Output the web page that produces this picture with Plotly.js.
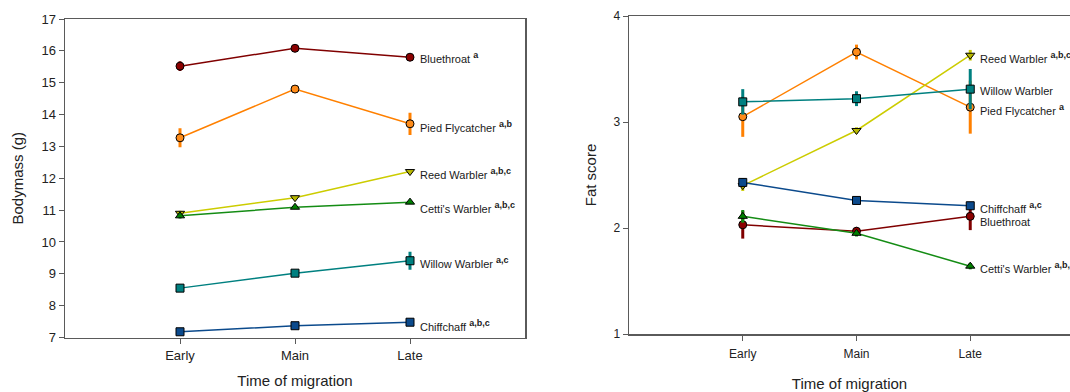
<!DOCTYPE html>
<html>
<head>
<meta charset="utf-8">
<script src="https://cdn.plot.ly/plotly-3.0.1.min.js"></script>
<style>html,body{margin:0;padding:0;background:#fff;}#chart{width:1070px;height:392px;}</style>
</head>
<body>
<div id="chart"></div>
<script>
// ---- Data ----
const periods = ["Early", "Main", "Late"];
const species = ["Bluethroat", "Pied Flycatcher", "Reed Warbler", "Cetti's Warbler", "Willow Warbler", "Chiffchaff"];

// Bodymass (g), left panel
const massBluethroat = [15.52, 16.08, 15.80];
const massPiedFlycatcher = [13.27, 14.80, 13.71];
const massReedWarbler = [10.90, 11.39, 12.21];
const massCettisWarbler = [10.82, 11.09, 11.25];
const massWillowWarbler = [8.55, 9.02, 9.41];
const massChiffchaff = [7.18, 7.37, 7.48];

const massErrBluethroat = [0.15, 0.05, 0.10];
const massErrPiedFlycatcher = [0.30, 0.08, 0.35];
const massErrReedWarbler = [0.08, 0.05, 0.05];
const massErrCettisWarbler = [0.08, 0.05, 0.05];
const massErrWillowWarbler = [0.10, 0.06, 0.28];
const massErrChiffchaff = [0.05, 0.04, 0.04];

const massSig = ["a", "a,b", "a,b,c", "a,b,c", "a,c", "a,b,c"];

// Fat score, right panel
const fatBluethroat = [2.03, 1.97, 2.11];
const fatPiedFlycatcher = [3.05, 3.66, 3.14];
const fatReedWarbler = [2.40, 2.92, 3.63];
const fatCettisWarbler = [2.11, 1.95, 1.64];
const fatWillowWarbler = [3.19, 3.22, 3.31];
const fatChiffchaff = [2.43, 2.26, 2.21];

const fatErrBluethroat = [0.13, 0.04, 0.13];
const fatErrPiedFlycatcher = [0.19, 0.07, 0.25];
const fatErrReedWarbler = [0.05, 0.03, 0.05];
const fatErrCettisWarbler = [0.06, 0.03, 0.03];
const fatErrWillowWarbler = [0.12, 0.07, 0.19];
const fatErrChiffchaff = [0.04, 0.03, 0.03];

const fatSig = ["", "a", "a,b,c", "a,b,c", "", "a,c"];

// ---- Styles ----
const lineColors = ["#800000", "#FF8000", "#CCCC00", "#148c14", "#008080", "#0b4a8c"];
const fillColors = ["#8B0000", "#FF8C1A", "#B8B800", "#008000", "#008080", "#0b4a8c"];
const symbols = ["circle", "circle", "triangle-down", "triangle-up", "square", "square"];

const massVals = [massBluethroat, massPiedFlycatcher, massReedWarbler, massCettisWarbler, massWillowWarbler, massChiffchaff];
const massErrs = [massErrBluethroat, massErrPiedFlycatcher, massErrReedWarbler, massErrCettisWarbler, massErrWillowWarbler, massErrChiffchaff];
const fatVals = [fatBluethroat, fatPiedFlycatcher, fatReedWarbler, fatCettisWarbler, fatWillowWarbler, fatChiffchaff];
const fatErrs = [fatErrBluethroat, fatErrPiedFlycatcher, fatErrReedWarbler, fatErrCettisWarbler, fatErrWillowWarbler, fatErrChiffchaff];

// label vertical pixel nudges (presentation only)
const massLabelShift = [0, -3, -2, -5, -2, -3];
const fatLabelShift = [-6, -2, -2, -1, -2, -2];

const traces = [];
const annotations = [];

function addPanel(vals, errs, sig, shifts, xa, ya) {
  for (let i = 0; i < species.length; i++) {
    traces.push({
      type: "scatter", mode: "lines+markers",
      x: periods, y: vals[i], xaxis: xa, yaxis: ya,
      name: species[i], showlegend: false,
      line: {color: lineColors[i], width: 1.5},
      marker: {symbol: symbols[i], size: 8, color: fillColors[i], line: {color: "#000", width: 1}},
      error_y: {type: "data", array: errs[i], visible: true, color: lineColors[i], thickness: 3, width: 0},
      cliponaxis: false
    });
    const s = sig[i] ? " <sup><b><span style=\"font-size:9px\">" + sig[i] + "</span></b></sup>" : "";
    annotations.push({
      xref: xa, yref: ya, x: periods[2], y: vals[i][2],
      text: species[i] + s, showarrow: false,
      xanchor: "left", yanchor: "middle", xshift: 8, yshift: shifts[i],
      font: {family: "Liberation Sans, Arial, sans-serif", size: 11, color: "#1a1a1a"}
    });
  }
}
addPanel(massVals, massErrs, massSig, massLabelShift, "x", "y");
addPanel(fatVals, fatErrs, fatSig, fatLabelShift, "x2", "y2");

const axisLine = "#5a5a5a";
const fontFam = "Liberation Sans, Arial, sans-serif";

const layout = {
  width: 1070, height: 392,
  margin: {l: 0, r: 0, t: 0, b: 0},
  paper_bgcolor: "#fff", plot_bgcolor: "#fff",
  font: {family: fontFam, color: "#222"},
  showlegend: false,
  xaxis: {
    domain: [65/1070, 525/1070], anchor: "y",
    type: "category", categoryarray: periods, range: [-1, 3],
    showline: true, linecolor: axisLine, linewidth: 1.5, mirror: true,
    ticks: "outside", ticklen: 5, tickcolor: axisLine, tickwidth: 1,
    showgrid: false, zeroline: false,
    tickfont: {size: 13, color: "#222"},
    title: {text: "Time of migration", font: {size: 15, color: "#222"}, standoff: 14}
  },
  yaxis: {
    domain: [1 - 337.5/392, 1 - 19/392], anchor: "x",
    range: [7, 17], dtick: 1,
    showline: true, linecolor: axisLine, linewidth: 1.5, mirror: true,
    ticks: "outside", ticklen: 5, tickcolor: axisLine, tickwidth: 1,
    showgrid: false, zeroline: false,
    tickfont: {size: 13, color: "#222"},
    title: {text: "Bodymass (g)", font: {size: 15, color: "#222"}, standoff: 14}
  },
  xaxis2: {
    domain: [629/1070, 1], anchor: "y2",
    type: "category", categoryarray: periods, range: [-1, 2.877],
    showline: true, linecolor: axisLine, linewidth: 1.5, mirror: true,
    ticks: "outside", ticklen: 5, tickcolor: axisLine, tickwidth: 1,
    ticklabelstandoff: 3,
    showgrid: false, zeroline: false,
    tickfont: {size: 12, color: "#222"},
    title: {text: "Time of migration", font: {size: 15, color: "#222"}, standoff: 22}
  },
  yaxis2: {
    domain: [1 - 334/392, 1 - 16/392], anchor: "x2",
    range: [1, 4], dtick: 1,
    showline: true, linecolor: axisLine, linewidth: 1.5, mirror: false,
    ticks: "outside", ticklen: 5, tickcolor: axisLine, tickwidth: 1,
    showgrid: false, zeroline: false,
    tickfont: {size: 12, color: "#222"},
    title: {text: "Fat score", font: {size: 15, color: "#222"}, standoff: 13}
  },
  annotations: annotations
};

Plotly.newPlot("chart", traces, layout, {staticPlot: true, displayModeBar: false});
</script>
</body>
</html>
